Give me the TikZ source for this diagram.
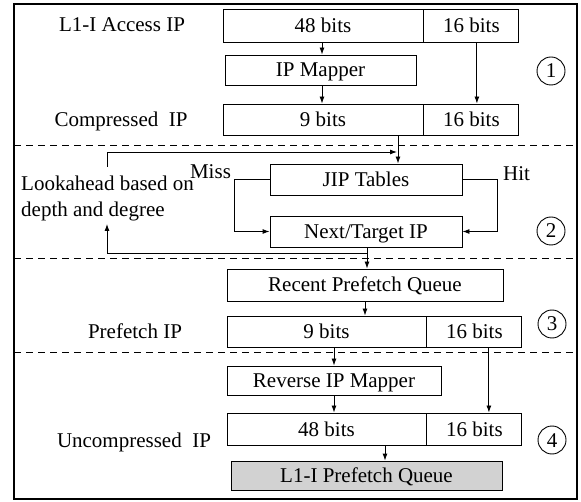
\documentclass[tikz,border=0pt]{standalone}
\usepackage{fontspec}
\setmainfont{Liberation Serif}
\usetikzlibrary{arrows.meta}
\begin{document}
\begin{tikzpicture}[x=1pt,y=-1pt,font=\fontsize{21}{25}\selectfont]
\tikzset{
 box/.style={draw, line width=0.9pt, minimum height=31pt, inner sep=0pt, text height=15pt, text depth=1pt},
 lbl/.style={inner sep=0pt, text height=15pt, text depth=1pt},
 arr/.style={line width=0.9pt, -{Latex[length=7pt,width=5pt]}},
 sep/.style={line width=0.9pt, dash pattern=on 7pt off 5pt},
 num/.style={draw, circle, line width=0.9pt, minimum size=28pt, inner sep=0pt, text height=15pt, text depth=1pt}
}
\useasboundingbox (0,0) rectangle (581,502);
\draw[line width=1.1pt] (14,4) rectangle (577,499);
% separators
\draw[sep] (14,145) -- (577,145);
\draw[sep] (14,258) -- (577,258);
\draw[sep] (14,352) -- (577,352);
% boxes
\node[box, minimum width=200pt, minimum height=33pt] (a48) at (323,25.5) {48 bits};
\node[box, minimum width=95pt, minimum height=33pt, anchor=west] (a16) at (a48.east) {16 bits};
\node[box, minimum width=191pt, minimum height=30pt] (map) at (320.5,70) {IP Mapper};
\node[box, minimum width=200pt] (c9) at (323,119.5) {9 bits};
\node[box, minimum width=95pt, anchor=west] (c16) at (c9.east) {16 bits};
\node[box, minimum width=192pt] (jip) at (366,179.5) {JIP Tables};
\node[box, minimum width=192pt] (nt) at (366,231.5) {Next/Target IP};
\node[box, minimum width=276pt, minimum height=32pt] (rpq) at (365,285) {Recent Prefetch Queue};
\node[box, minimum width=199pt] (p9) at (326.5,331.5) {9 bits};
\node[box, minimum width=95pt, anchor=west] (p16) at (p9.east) {16 bits};
\node[box, minimum width=214pt, minimum height=29pt] (rev) at (334,380.5) {Reverse IP Mapper};
\node[box, minimum width=199pt, minimum height=32pt] (u48) at (326.5,429) {48 bits};
\node[box, minimum width=95pt, minimum height=32pt, anchor=west] (u16) at (u48.east) {16 bits};
\node[box, minimum width=271pt, minimum height=29pt, fill=gray!35] (l1q) at (366.5,475.5) {L1-I Prefetch Queue};
% labels
\node[lbl] (t1) at (122,25) {L1-I Access IP};
\node[lbl] (t2) at (121,120) {Compressed\ \ IP};
\node[lbl] (t3) at (135,332) {Prefetch IP};
\node[lbl] (t4) at (134,440) {Uncompressed\ \ IP};
\node[lbl, anchor=west] (la1) at (21,184) {Lookahead based on};
\node[lbl, anchor=west] (la2) at (21,210) {depth and degree};
\node[lbl] (miss) at (210.5,172) {Miss};
\node[lbl] (hit) at (516.5,174) {Hit};
\node[num] (n1) at (551,71) {1};
\node[num] (n2) at (551,231) {2};
\node[num] (n3) at (552,324) {3};
\node[num] (n4) at (552,440) {4};
% connectors
\draw[arr] ([xshift=-1pt]a48.south) -- ([xshift=-1pt]a48.south |- map.north);
\draw[arr] ([xshift=1.5pt]map.south) -- ([xshift=1.5pt]map.south |- c9.north);
\draw[arr] ([xshift=5.5pt]a16.south) -- ([xshift=5.5pt]a16.south |- c16.north);
\draw[arr] ([xshift=75pt]c9.south) -- ([xshift=75pt]c9.south |- jip.north);
\coordinate (fbA) at (107,167);
\coordinate (fbB) at (397,152);
\draw[arr] (fbA) |- (fbB);
\draw[arr] (jip.west) -- ++(-35,0) |- (nt.west);
\draw[arr] (jip.east) -- ++(35,0) |- (nt.east);
\draw[arr] ([xshift=1pt]nt.south) -- ([xshift=1pt]nt.south |- rpq.north);
\coordinate (lbA) at (367,253);
\coordinate (lbB) at (107,224);
\draw[arr] (lbA) -| (lbB);
\draw[arr] (rpq.south) -- (rpq.south |- p9.north);
\draw[arr] (rev.north |- p9.south) -- (rev.north);
\draw[arr] ([xshift=14.5pt]p16.south) -- ([xshift=14.5pt]p16.south |- u16.north);
\draw[arr] (rev.south) -- (rev.south |- u48.north);
\draw[arr] ([xshift=18.5pt]l1q.north |- u48.south) -- ([xshift=18.5pt]l1q.north);
\end{tikzpicture}
\end{document}
